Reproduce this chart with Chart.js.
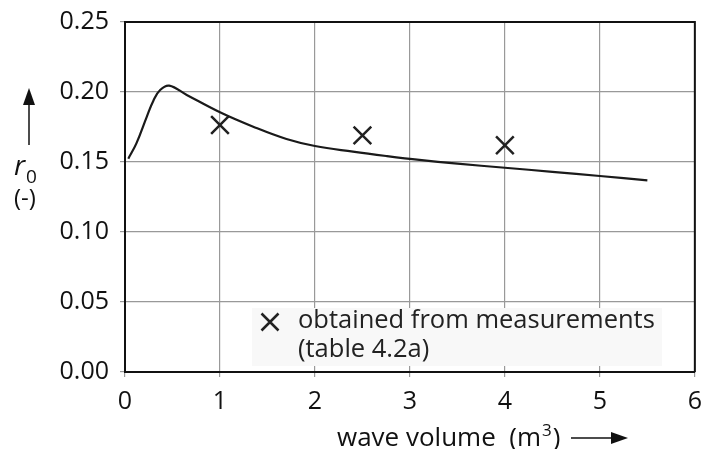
<!DOCTYPE html>
<html>
<head>
<meta charset="utf-8">
<script src="https://cdn.jsdelivr.net/npm/chart.js@4"></script>
<style>
  html, body { margin: 0; padding: 0; background: #fff; }
  #wrap { width: 707px; height: 449px; overflow: hidden; }
</style>
</head>
<body>
<!-- canvas is a little wider than the window: the last x label reserves ~15px on the right -->
<div id="wrap"><canvas id="r0Chart" width="712" height="449"></canvas></div>
<script>
// curve
const curveX = [0.035, 0.12, 0.23, 0.30, 0.37, 0.465, 0.65, 1.0, 1.35, 1.7, 2.0, 2.4, 2.75, 3.1, 3.5, 4.0, 4.5, 5.0, 5.5];
const curveY = [0.1524, 0.1633, 0.1824, 0.194, 0.2014, 0.2045, 0.1979, 0.1855, 0.1752, 0.1664, 0.1614, 0.1574, 0.1543, 0.1515, 0.1488, 0.1459, 0.1430, 0.1400, 0.1369];

// measured points (crosses)
const measX = [1.0, 2.5, 4.0];
const measY = [0.1764, 0.169, 0.162];

const xTicks = [0, 1, 2, 3, 4, 5, 6];
const yTicks = [0, 0.05, 0.10, 0.15, 0.20, 0.25];

const legendLines = ['obtained from measurements', '(table 4.2a)'];
const xTitle = 'wave volume  (m';

const FONT = '"Open Sans", "DejaVu Sans", sans-serif';

const extras = {
    id: 'extras',
    beforeDatasetsDraw(chart) {
        const ctx = chart.ctx;
        const a = chart.chartArea;
        ctx.save();
        // top and right frame
        ctx.strokeStyle = '#111';
        ctx.lineWidth = 2;
        ctx.beginPath();
        ctx.moveTo(a.left, a.top);
        ctx.lineTo(a.right, a.top);
        ctx.lineTo(a.right, a.bottom);
        ctx.stroke();
        ctx.restore();
    },
    afterDraw(chart) {
        const ctx = chart.ctx;
        ctx.save();

        // legend box
        ctx.fillStyle = '#f8f8f8';
        ctx.fillRect(252, 308, 410, 58);
        ctx.strokeStyle = '#222';
        ctx.lineWidth = 2.5;
        const cx = 270, cy = 322, r = 8.5;
        ctx.beginPath();
        ctx.moveTo(cx - r, cy - r); ctx.lineTo(cx + r, cy + r);
        ctx.moveTo(cx + r, cy - r); ctx.lineTo(cx - r, cy + r);
        ctx.stroke();
        ctx.fillStyle = '#222';
        ctx.font = '25.5px ' + FONT;
        ctx.textBaseline = 'middle';
        ctx.textAlign = 'left';
        ctx.fillText(legendLines[0], 298, 321);
        ctx.fillText(legendLines[1], 298, 350);

        // x title with arrow
        ctx.font = '26px ' + FONT;
        ctx.textBaseline = 'alphabetic';
        ctx.fillStyle = '#111';
        ctx.fillText(xTitle, 337, 446);
        let w = ctx.measureText(xTitle).width;
        ctx.font = '17px ' + FONT;
        ctx.fillText('3', 337 + w + 1, 436);
        let w3 = ctx.measureText('3').width;
        ctx.font = '26px ' + FONT;
        ctx.fillText(')', 337 + w + w3 + 2, 446);
        ctx.strokeStyle = '#111';
        ctx.lineWidth = 1.5;
        ctx.beginPath();
        ctx.moveTo(571, 438); ctx.lineTo(615, 438);
        ctx.stroke();
        ctx.beginPath();
        ctx.moveTo(628, 438); ctx.lineTo(611, 432); ctx.lineTo(611, 444); ctx.closePath();
        ctx.fill();

        // y title with arrow
        ctx.beginPath();
        ctx.moveTo(29, 145); ctx.lineTo(29, 100);
        ctx.stroke();
        ctx.beginPath();
        ctx.moveTo(29, 88); ctx.lineTo(23, 105); ctx.lineTo(35, 105); ctx.closePath();
        ctx.fill();
        ctx.font = 'italic 28px ' + FONT;
        ctx.textAlign = 'left';
        ctx.fillText('r', 14, 175);
        ctx.font = '19px ' + FONT;
        ctx.fillText('0', 26, 183);
        ctx.font = '24px ' + FONT;
        ctx.fillText('(-)', 14, 206);

        ctx.restore();
    }
};

const ctx = document.getElementById('r0Chart').getContext('2d');
new Chart(ctx, {
    type: 'scatter',
    data: {
        datasets: [
            {
                label: 'curve',
                data: curveX.map((x, i) => ({ x: x, y: curveY[i] })),
                showLine: true,
                borderColor: '#1a1a1a',
                borderWidth: 2.2,
                pointRadius: 0,
                tension: 0.4,
                fill: false
            },
            {
                label: 'obtained from measurements',
                data: measX.map((x, i) => ({ x: x, y: measY[i] })),
                pointStyle: 'crossRot',
                pointRadius: 12.5,
                borderColor: '#222',
                borderWidth: 2.5,
                showLine: false
            }
        ]
    },
    options: {
        responsive: false,
        animation: false,
        layout: { padding: { top: 22, right: 10, left: 0, bottom: 0 } },
        plugins: {
            legend: { display: false },
            tooltip: { enabled: false }
        },
        scales: {
            x: {
                type: 'linear',
                min: 0,
                max: 6,
                afterFit: function(scale) { scale.height = 77; },
                afterBuildTicks: function(scale) { scale.ticks = xTicks.map(v => ({ value: v })); },
                ticks: {
                    color: '#111',
                    font: { family: FONT, size: 25 },
                    padding: 10,
                    callback: v => String(v)
                },
                grid: { color: '#999', lineWidth: 1.2, tickLength: 5 },
                border: { color: '#111', width: 2 }
            },
            y: {
                min: 0,
                max: 0.25,
                afterFit: function(scale) {
                    scale.width = 125;
                    scale.paddingTop = 0;
                    scale.paddingBottom = 0;
                },
                afterBuildTicks: function(scale) { scale.ticks = yTicks.map(v => ({ value: v })); },
                ticks: {
                    color: '#111',
                    font: { family: FONT, size: 25 },
                    padding: 11,
                    callback: v => v.toFixed(2)
                },
                grid: { color: '#999', lineWidth: 1.2, tickLength: 5 },
                border: { color: '#111', width: 2 }
            }
        }
    },
    plugins: [extras]
});
</script>
</body>
</html>
